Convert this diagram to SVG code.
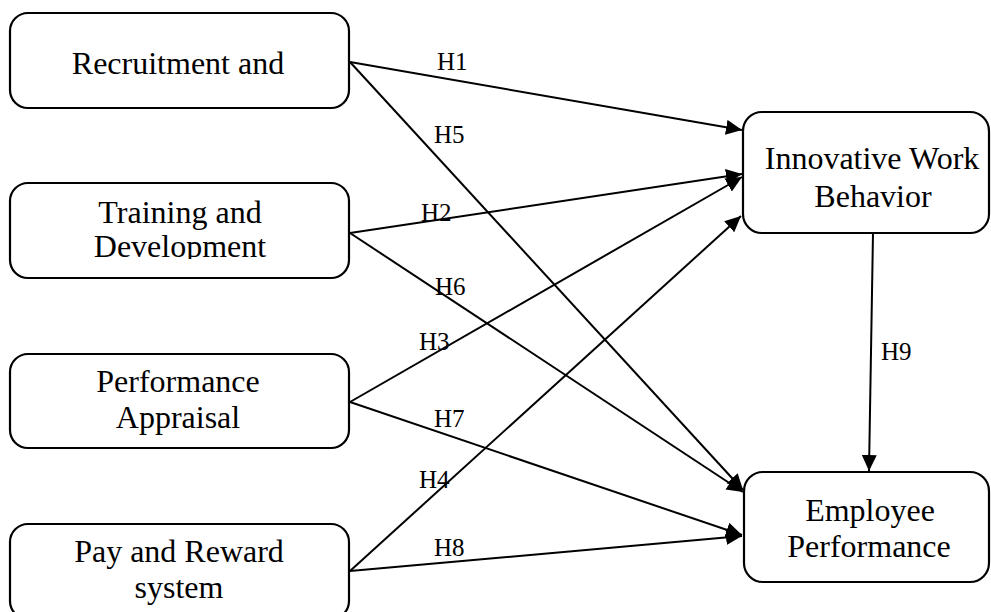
<svg xmlns="http://www.w3.org/2000/svg" width="991" height="612" viewBox="0 0 991 612">
  <style>
    .box { fill: #fff; stroke: #000; stroke-width: 2.2; }
    .lbl { font-family: "Liberation Serif", "Times New Roman", serif; font-size: 32px; fill: #000; text-anchor: middle; }
    .hyp { font-family: "Liberation Serif", "Times New Roman", serif; font-size: 25px; fill: #000; }
    .edge { stroke: #000; stroke-width: 2; fill: none; marker-end: url(#arrow); }
  </style>
  <defs>
    <marker id="arrow" markerUnits="userSpaceOnUse" markerWidth="17" markerHeight="16" refX="16" refY="7.5" orient="auto">
      <path d="M0,0 L16,7.5 L0,15 Z" fill="#000"/>
    </marker>
    <clipPath id="clipTD">
      <rect x="10" y="183" width="339" height="76"/>
    </clipPath>
  </defs>
  <rect width="991" height="612" fill="#fff"/>

  <!-- Connectors -->
  <g id="connectors">
    <path class="edge" d="M350,62 L742,130"/>
    <path class="edge" d="M350,62 L743,490"/>
    <path class="edge" d="M350,233 L742,174"/>
    <path class="edge" d="M350,233 L743,492"/>
    <path class="edge" d="M350,402 L742,177"/>
    <path class="edge" d="M350,402 L742,535"/>
    <path class="edge" d="M350,571 L741,216"/>
    <path class="edge" d="M350,571 L742,536"/>
    <path class="edge" d="M873,233 L869,471"/>
    <text class="hyp" x="437" y="70">H1</text>
    <text class="hyp" x="434" y="143">H5</text>
    <text class="hyp" x="421" y="221">H2</text>
    <text class="hyp" x="435" y="295">H6</text>
    <text class="hyp" x="419" y="350">H3</text>
    <text class="hyp" x="434" y="427">H7</text>
    <text class="hyp" x="419" y="488">H4</text>
    <text class="hyp" x="434" y="556">H8</text>
    <text class="hyp" x="881" y="360">H9</text>
  </g>

  <!-- Nodes -->
  <g id="recruitment">
    <rect class="box" x="10" y="13" width="339" height="95" rx="18"/>
    <text class="lbl" x="178" y="74">Recruitment and</text>
  </g>
  <g id="training">
    <rect class="box" x="10" y="183" width="339" height="95" rx="18"/>
    <g clip-path="url(#clipTD)">
      <text class="lbl" x="180" y="223">Training and</text>
      <text class="lbl" x="180" y="257">Development</text>
    </g>
  </g>
  <g id="appraisal">
    <rect class="box" x="10" y="354" width="339" height="94" rx="18"/>
    <text class="lbl" x="178" y="392">Performance</text>
    <text class="lbl" x="178" y="428">Appraisal</text>
  </g>
  <g id="reward">
    <rect class="box" x="10" y="524" width="339" height="95" rx="18"/>
    <text class="lbl" x="179" y="562">Pay and Reward</text>
    <text class="lbl" x="179" y="598">system</text>
  </g>
  <g id="innovative">
    <rect class="box" x="743" y="112" width="246" height="121" rx="19"/>
    <text class="lbl" x="872" y="169">Innovative Work</text>
    <text class="lbl" x="873" y="207">Behavior</text>
  </g>
  <g id="employee">
    <rect class="box" x="744" y="472" width="245" height="110" rx="19"/>
    <text class="lbl" x="870" y="521">Employee</text>
    <text class="lbl" x="869" y="557">Performance</text>
  </g>
</svg>
